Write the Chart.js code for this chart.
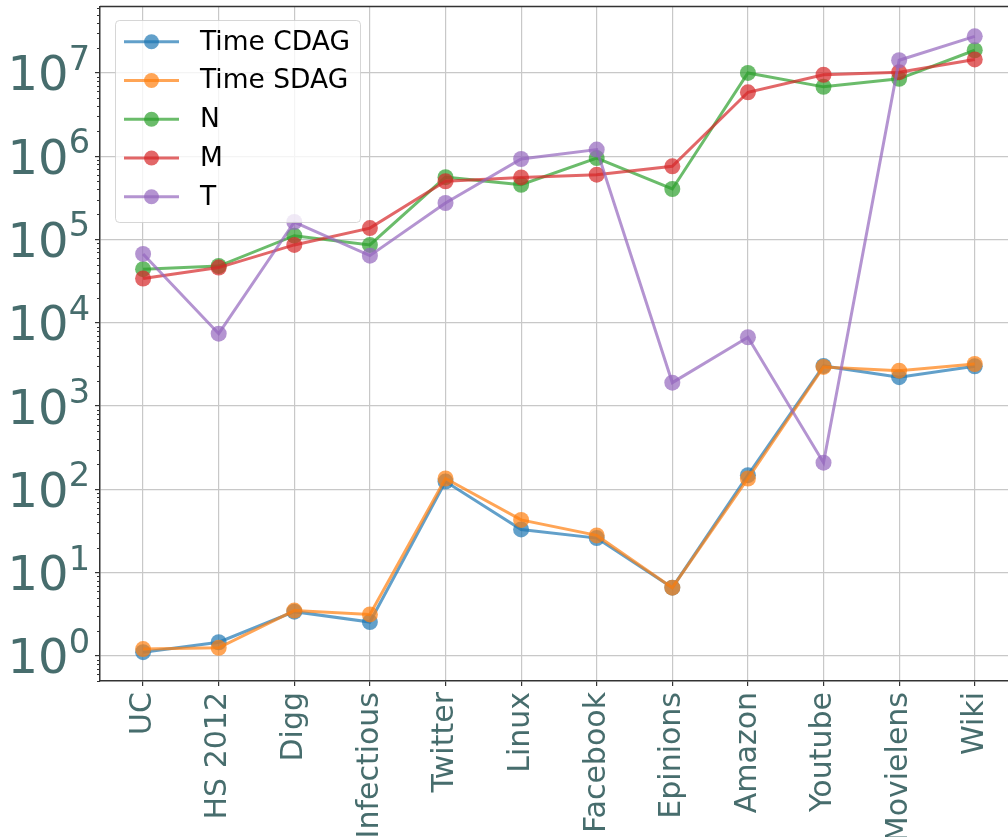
<!DOCTYPE html>
<html>
<head>
<meta charset="utf-8">
<script src="https://cdn.jsdelivr.net/npm/chart.js@4/dist/chart.umd.min.js"></script>
<style>
  html, body { margin: 0; padding: 0; background: #fff; overflow: hidden; }
  #wrap { width: 1008px; height: 837px; position: relative; }
</style>
</head>
<body>
<div id="wrap"><canvas id="c"></canvas></div>
<script>
// ---- data ----
const categories = ['UC', 'HS 2012', 'Digg', 'Infectious', 'Twitter', 'Linux', 'Facebook', 'Epinions', 'Amazon', 'Youtube', 'Movielens', 'Wiki'];
const seriesNames = ['Time CDAG', 'Time SDAG', 'N', 'M', 'T'];
const timeCDAG = [1.11, 1.46, 3.4, 2.55, 124, 33, 26, 6.6, 148, 3030, 2220, 3000];
const timeSDAG = [1.21, 1.25, 3.5, 3.15, 135, 43, 28, 6.6, 135, 2950, 2660, 3200];
const valuesN = [4.4e4, 4.8e4, 1.11e5, 8.6e4, 5.6e5, 4.54e5, 9.5e5, 4.04e5, 1.0e7, 6.8e6, 8.5e6, 1.87e7];
const valuesM = [3.4e4, 4.6e4, 8.6e4, 1.37e5, 5.0e5, 5.56e5, 6.0e5, 7.55e5, 5.85e6, 9.5e6, 1.02e7, 1.45e7];
const valuesT = [6.7e4, 7.4e3, 1.62e5, 6.4e4, 2.74e5, 9.25e5, 1.2e6, 1.91e3, 6.7e3, 209, 1.42e7, 2.75e7];
const yTickExponents = [0, 1, 2, 3, 4, 5, 6, 7];

const colors = ['rgba(31,119,180,0.7)', 'rgba(255,127,14,0.7)', 'rgba(44,160,44,0.7)', 'rgba(214,39,40,0.7)', 'rgba(148,103,189,0.7)'];
const allSeries = [timeCDAG, timeSDAG, valuesN, valuesM, valuesT];
const labelColor = '#476d6d';
const spineColor = '#333333';
const FONT = '"DejaVu Sans", sans-serif';

const datasets = allSeries.map((arr, k) => ({
  label: seriesNames[k],
  data: arr.map((v, i) => ({ x: i, y: v })),
  borderColor: colors[k],
  backgroundColor: colors[k],
  pointBackgroundColor: colors[k],
  pointBorderWidth: 0,
  pointRadius: 8,
  borderWidth: 3,
  tension: 0,
  fill: false,
  order: allSeries.length - 1 - k
}));

const decorPlugin = {
  id: 'decor',
  afterDraw(chart) {
    const ctx = chart.ctx;
    const area = chart.chartArea;
    const ys = chart.scales.y;
    ctx.save();
    // top spine
    ctx.strokeStyle = spineColor;
    ctx.lineWidth = 1.5;
    ctx.beginPath();
    ctx.moveTo(area.left, area.top);
    ctx.lineTo(area.right, area.top);
    ctx.stroke();
    // minor ticks on log axis
    ctx.lineWidth = 1;
    for (let k = -1; k <= 8; k++) {
      for (let m = 2; m <= 9; m++) {
        const v = m * Math.pow(10, k);
        if (v < ys.min || v > ys.max) continue;
        const py = Math.round(ys.getPixelForValue(v)) + 0.5;
        ctx.beginPath();
        ctx.moveTo(area.left - 3, py);
        ctx.lineTo(area.left, py);
        ctx.stroke();
      }
    }
    // y tick labels as 10^k (mathtext style)
    ctx.fillStyle = labelColor;
    ctx.textAlign = 'left';
    ctx.textBaseline = 'alphabetic';
    const bigFont = '48px ' + FONT;
    const supFont = '33.6px ' + FONT;
    yTickExponents.forEach(e => {
      const py = ys.getPixelForValue(Math.pow(10, e));
      ctx.font = bigFont;
      const w1 = ctx.measureText('10').width;
      ctx.font = supFont;
      const w2 = ctx.measureText(String(e)).width;
      const x0 = area.left - 10 - (w1 + w2);
      ctx.font = bigFont;
      ctx.fillText('10', x0, py + 17.5);
      ctx.font = supFont;
      ctx.fillText(String(e), x0 + w1, py - 3);
    });
    // legend
    const lx = area.left + 15, ly = area.top + 13.5, lw = 245, lh = 202;
    ctx.fillStyle = 'rgba(255,255,255,0.8)';
    ctx.strokeStyle = 'rgba(204,204,204,0.8)';
    ctx.lineWidth = 1;
    ctx.beginPath();
    if (ctx.roundRect) ctx.roundRect(lx + 0.5, ly + 0.5, lw, lh, 4); else ctx.rect(lx + 0.5, ly + 0.5, lw, lh);
    ctx.fill();
    ctx.stroke();
    chart.data.datasets.forEach((ds, i) => {
      const cy = ly + 21.7 + i * 38.75;
      ctx.strokeStyle = ds.borderColor;
      ctx.lineWidth = 3;
      ctx.beginPath();
      ctx.moveTo(lx + 9, cy);
      ctx.lineTo(lx + 64, cy);
      ctx.stroke();
      ctx.fillStyle = ds.borderColor;
      ctx.beginPath();
      ctx.arc(lx + 36.5, cy, 7.5, 0, Math.PI * 2);
      ctx.fill();
      ctx.fillStyle = '#000';
      ctx.font = '26.5px ' + FONT;
      ctx.textBaseline = 'middle';
      ctx.fillText(ds.label, lx + 85, cy + 1);
    });
    ctx.restore();
  }
};

new Chart(document.getElementById('c'), {
  type: 'line',
  data: { datasets },
  options: {
    responsive: true,
    maintainAspectRatio: false,
    animation: false,
    layout: { autoPadding: false, padding: { top: 6.5, left: 0, right: 0, bottom: 0 } },
    plugins: { legend: { display: false }, tooltip: { enabled: false } },
    scales: {
      x: {
        type: 'linear',
        bounds: 'data',
        min: -0.57,
        max: 11.44,
        afterBuildTicks: s => { s.ticks = categories.map((c, i) => ({ value: i })); },
        afterFit: s => { s.height = 156; s.paddingLeft = 0; s.paddingRight = 0; },
        ticks: {
          autoSkip: false,
          minRotation: 90,
          maxRotation: 90,
          padding: 6,
          color: labelColor,
          font: { family: FONT, size: 30 },
          callback: v => categories[v] !== undefined ? categories[v] : ''
        },
        grid: { color: '#c8c8c8', lineWidth: 1.2, drawTicks: true, tickLength: 5, tickColor: spineColor, tickWidth: 1.2 },
        border: { display: true, color: spineColor, width: 1.5 }
      },
      y: {
        type: 'logarithmic',
        min: 0.5,
        max: 6.27e7,
        afterBuildTicks: s => { s.ticks = yTickExponents.map(e => ({ value: Math.pow(10, e), major: true })); },
        afterFit: s => { s.width = 100; s.paddingTop = 0; s.paddingBottom = 0; },
        ticks: { display: false },
        grid: { color: '#c8c8c8', lineWidth: 1.2, drawTicks: true, tickLength: 5, tickColor: spineColor, tickWidth: 1.2 },
        border: { display: true, color: spineColor, width: 1.5 }
      }
    }
  },
  plugins: [decorPlugin]
});
</script>
</body>
</html>
